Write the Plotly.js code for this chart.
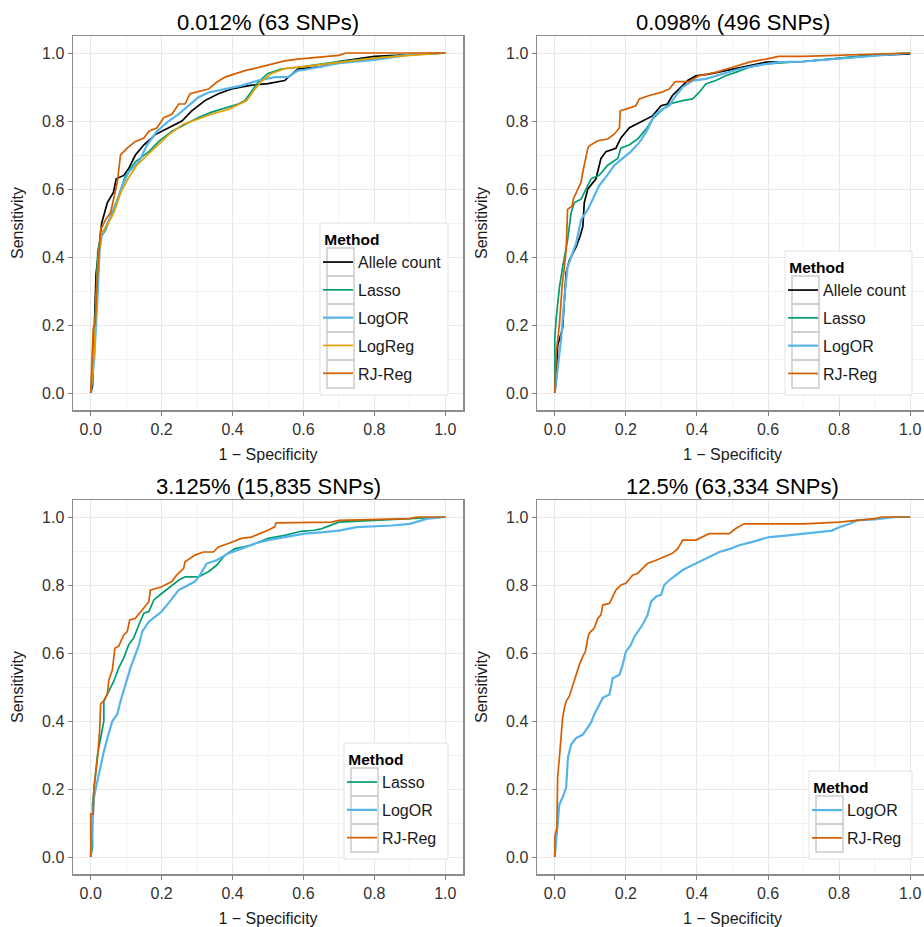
<!DOCTYPE html>
<html>
<head>
<meta charset="utf-8">
<script src="https://cdn.plot.ly/plotly-3.0.1.min.js"></script>
<style>
html,body{margin:0;padding:0;overflow:hidden;background:#fff;}
#chart{width:930px;height:927px;}
</style>
</head>
<body>
<div id="chart"></div>
<script>
// ---------- Data (1 - Specificity, Sensitivity) ----------
const panelTitles = ["0.012% (63 SNPs)", "0.098% (496 SNPs)", "3.125% (15,835 SNPs)", "12.5% (63,334 SNPs)"];
const methodNames = ["Allele count", "Lasso", "LogOR", "LogReg", "RJ-Reg"];
const methodColors = ["#000000", "#009E73", "#56B4E9", "#E69F00", "#D55E00"];
const tickVals = [0, 0.2, 0.4, 0.6, 0.8, 1.0];
const tickText = ["0.0", "0.2", "0.4", "0.6", "0.8", "1.0"];

// Panel 1: 0.012% (63 SNPs)
const p1_allele_x = [0,0.005,0.015,0.025,0.031,0.047,0.064,0.072,0.093,0.107,0.126,0.15,0.182,0.22,0.257,0.285,0.322,0.36,0.397,0.45,0.5,0.547,0.584,0.65,0.7,0.8,0.85,1.0];
const p1_allele_y = [0,0.02,0.35,0.45,0.50,0.56,0.59,0.63,0.64,0.66,0.70,0.73,0.76,0.78,0.80,0.83,0.86,0.88,0.894,0.905,0.91,0.919,0.953,0.96,0.975,0.99,0.993,1.0];
const p1_lasso_x = [0,0.01,0.02,0.03,0.042,0.061,0.079,0.098,0.126,0.164,0.192,0.229,0.266,0.304,0.341,0.388,0.416,0.435,0.453,0.472,0.50,0.537,0.584,0.7,0.8,0.9,1.0];
const p1_lasso_y = [0,0.15,0.42,0.46,0.48,0.53,0.58,0.64,0.68,0.71,0.74,0.77,0.79,0.81,0.826,0.84,0.85,0.86,0.885,0.914,0.94,0.953,0.958,0.975,0.985,0.995,1.0];
const p1_logor_x = [0,0.01,0.02,0.025,0.031,0.051,0.07,0.089,0.107,0.136,0.159,0.187,0.22,0.248,0.276,0.304,0.332,0.379,0.425,0.472,0.519,0.556,0.584,0.6,0.7,0.8,0.9,1.0];
const p1_logor_y = [0,0.1,0.3,0.42,0.463,0.51,0.55,0.61,0.65,0.68,0.73,0.77,0.80,0.82,0.845,0.87,0.884,0.894,0.904,0.919,0.929,0.929,0.948,0.95,0.97,0.98,0.995,1.0];
const p1_logreg_x = [0,0.01,0.02,0.03,0.045,0.065,0.085,0.105,0.13,0.16,0.19,0.22,0.26,0.30,0.34,0.39,0.42,0.44,0.46,0.48,0.51,0.55,0.6,0.7,0.8,0.9,1.0];
const p1_logreg_y = [0,0.12,0.38,0.47,0.49,0.53,0.59,0.63,0.67,0.70,0.73,0.76,0.79,0.805,0.82,0.835,0.85,0.86,0.89,0.915,0.94,0.955,0.96,0.972,0.985,0.993,1.0];
const p1_rjreg_x = [0,0.003,0.007,0.012,0.019,0.028,0.042,0.056,0.068,0.075,0.084,0.103,0.126,0.15,0.164,0.187,0.206,0.229,0.248,0.266,0.28,0.308,0.332,0.355,0.379,0.411,0.435,0.463,0.495,0.519,0.547,0.584,0.65,0.70,0.72,1.0];
const p1_rjreg_y = [0,0.07,0.19,0.20,0.35,0.48,0.51,0.53,0.59,0.62,0.70,0.72,0.74,0.75,0.77,0.78,0.81,0.82,0.85,0.85,0.88,0.887,0.894,0.914,0.929,0.94,0.948,0.955,0.963,0.968,0.977,0.982,0.987,0.993,1.0,1.0];

// Panel 2: 0.098% (496 SNPs)
const p2_allele_x = [0,0.005,0.008,0.022,0.032,0.041,0.06,0.071,0.079,0.083,0.093,0.116,0.13,0.144,0.172,0.186,0.21,0.247,0.275,0.299,0.317,0.331,0.35,0.374,0.397,0.434,0.481,0.528,0.594,0.7,0.8,0.9,1.0];
const p2_allele_y = [0,0.05,0.14,0.19,0.355,0.39,0.43,0.46,0.49,0.56,0.60,0.63,0.69,0.71,0.72,0.75,0.78,0.80,0.815,0.845,0.85,0.875,0.894,0.919,0.933,0.938,0.948,0.958,0.973,0.975,0.985,0.993,0.997];
const p2_lasso_x = [0,0,0.004,0.013,0.022,0.036,0.046,0.055,0.074,0.088,0.102,0.125,0.149,0.177,0.186,0.21,0.233,0.257,0.275,0.299,0.322,0.36,0.388,0.406,0.425,0.453,0.481,0.509,0.547,0.594,0.7,0.8,0.9,1.0];
const p2_lasso_y = [0,0.16,0.22,0.31,0.37,0.45,0.53,0.56,0.57,0.60,0.63,0.64,0.67,0.69,0.72,0.73,0.747,0.776,0.806,0.83,0.85,0.86,0.865,0.884,0.909,0.919,0.933,0.943,0.958,0.968,0.975,0.985,0.995,1.0];
const p2_logor_x = [0,0.005,0.018,0.027,0.036,0.046,0.06,0.074,0.093,0.107,0.125,0.14,0.168,0.191,0.214,0.238,0.257,0.28,0.303,0.322,0.341,0.36,0.388,0.425,0.472,0.519,0.566,0.631,0.7,0.8,0.9,1.0];
const p2_logor_y = [0,0.05,0.16,0.28,0.37,0.40,0.44,0.51,0.54,0.57,0.61,0.63,0.67,0.69,0.71,0.737,0.767,0.816,0.835,0.845,0.875,0.90,0.919,0.924,0.938,0.953,0.963,0.973,0.975,0.983,0.99,1.0];
const p2_rjreg_x = [0,0.004,0.013,0.021,0.027,0.032,0.036,0.049,0.052,0.065,0.074,0.079,0.093,0.097,0.121,0.149,0.168,0.182,0.184,0.20,0.228,0.238,0.266,0.299,0.322,0.339,0.378,0.406,0.453,0.50,0.547,0.594,0.63,0.7,0.8,0.9,1.0];
const p2_rjreg_y = [0,0.12,0.2,0.32,0.37,0.42,0.54,0.55,0.57,0.60,0.62,0.65,0.72,0.727,0.742,0.747,0.762,0.78,0.83,0.835,0.845,0.865,0.875,0.884,0.894,0.916,0.916,0.933,0.943,0.958,0.973,0.982,0.99,0.99,0.993,0.998,1.0];

// Panel 3: 3.125% (15,835 SNPs)
const p3_lasso_x = [0,0.005,0.005,0.014,0.019,0.028,0.037,0.037,0.051,0.065,0.079,0.093,0.107,0.121,0.136,0.15,0.164,0.178,0.2,0.224,0.248,0.266,0.304,0.332,0.355,0.379,0.407,0.453,0.50,0.547,0.593,0.63,0.65,0.7,0.8,0.9,1.0];
const p3_lasso_y = [0,0.03,0.155,0.253,0.30,0.35,0.40,0.458,0.487,0.517,0.556,0.585,0.624,0.644,0.683,0.717,0.722,0.756,0.775,0.795,0.814,0.824,0.824,0.839,0.858,0.888,0.907,0.917,0.937,0.946,0.958,0.961,0.965,0.985,0.99,0.995,1.0];
const p3_logor_x = [0,0.005,0.009,0.019,0.028,0.037,0.047,0.061,0.075,0.084,0.098,0.112,0.126,0.136,0.145,0.164,0.182,0.2,0.215,0.229,0.248,0.266,0.294,0.308,0.327,0.355,0.388,0.425,0.463,0.50,0.547,0.603,0.65,0.7,0.75,0.85,0.9,0.95,1.0];
const p3_logor_y = [0,0.08,0.175,0.224,0.272,0.31,0.35,0.40,0.42,0.458,0.507,0.556,0.595,0.624,0.663,0.692,0.707,0.722,0.741,0.761,0.785,0.795,0.81,0.829,0.863,0.873,0.893,0.907,0.922,0.932,0.941,0.951,0.955,0.96,0.97,0.975,0.98,0.995,1.0];
const p3_rjreg_x = [0,0,0.007,0.009,0.019,0.025,0.028,0.037,0.047,0.051,0.061,0.068,0.079,0.084,0.093,0.103,0.11,0.126,0.14,0.154,0.164,0.168,0.2,0.229,0.243,0.262,0.266,0.294,0.318,0.346,0.36,0.388,0.425,0.453,0.477,0.50,0.519,0.523,0.68,0.7,0.9,0.92,1.0];
const p3_rjreg_y = [0,0.126,0.126,0.204,0.29,0.37,0.45,0.46,0.48,0.52,0.55,0.614,0.62,0.634,0.653,0.663,0.697,0.702,0.72,0.741,0.751,0.785,0.795,0.81,0.83,0.849,0.868,0.888,0.897,0.897,0.912,0.922,0.937,0.941,0.951,0.961,0.971,0.983,0.985,0.99,0.995,1.0,1.0];

// Panel 4: 12.5% (63,334 SNPs)
const p4_logor_x = [0,0.004,0.008,0.013,0.022,0.032,0.037,0.046,0.06,0.079,0.093,0.102,0.111,0.121,0.135,0.154,0.163,0.182,0.191,0.2,0.214,0.224,0.233,0.247,0.261,0.271,0.285,0.299,0.308,0.322,0.341,0.36,0.378,0.406,0.434,0.463,0.495,0.519,0.556,0.603,0.65,0.7,0.75,0.78,0.8,0.83,0.85,0.9,0.96,1.0];
const p4_logor_y = [0,0.06,0.097,0.155,0.175,0.204,0.292,0.331,0.35,0.36,0.38,0.395,0.419,0.438,0.468,0.478,0.526,0.536,0.565,0.604,0.624,0.648,0.663,0.683,0.712,0.751,0.766,0.771,0.80,0.814,0.829,0.844,0.854,0.868,0.883,0.897,0.907,0.917,0.927,0.941,0.945,0.95,0.955,0.96,0.97,0.98,0.99,0.993,1.0,1.0];
const p4_rjreg_x = [0,0,0.006,0.008,0.013,0.018,0.022,0.027,0.032,0.041,0.051,0.06,0.069,0.079,0.086,0.093,0.097,0.111,0.121,0.13,0.135,0.154,0.163,0.172,0.186,0.2,0.219,0.233,0.247,0.261,0.285,0.308,0.331,0.346,0.36,0.397,0.416,0.434,0.491,0.509,0.533,0.7,0.8,0.85,0.9,0.92,1.0];
const p4_rjreg_y = [0,0.058,0.087,0.233,0.292,0.35,0.409,0.438,0.458,0.473,0.507,0.536,0.565,0.59,0.604,0.644,0.658,0.673,0.702,0.712,0.741,0.746,0.766,0.785,0.80,0.805,0.829,0.834,0.849,0.863,0.873,0.883,0.893,0.907,0.932,0.932,0.941,0.951,0.951,0.966,0.98,0.98,0.985,0.99,0.995,1.0,1.0];

// ---------- Build traces ----------
const panels = [
  [["Allele count", p1_allele_x, p1_allele_y], ["Lasso", p1_lasso_x, p1_lasso_y], ["LogOR", p1_logor_x, p1_logor_y], ["LogReg", p1_logreg_x, p1_logreg_y], ["RJ-Reg", p1_rjreg_x, p1_rjreg_y]],
  [["Allele count", p2_allele_x, p2_allele_y], ["Lasso", p2_lasso_x, p2_lasso_y], ["LogOR", p2_logor_x, p2_logor_y], ["RJ-Reg", p2_rjreg_x, p2_rjreg_y]],
  [["Lasso", p3_lasso_x, p3_lasso_y], ["LogOR", p3_logor_x, p3_logor_y], ["RJ-Reg", p3_rjreg_x, p3_rjreg_y]],
  [["LogOR", p4_logor_x, p4_logor_y], ["RJ-Reg", p4_rjreg_x, p4_rjreg_y]]
];

const traces = [];
panels.forEach((series, i) => {
  const sfx = i === 0 ? "" : String(i + 1);
  series.forEach(([name, xs, ys]) => {
    const c = methodColors[methodNames.indexOf(name)];
    traces.push({
      type: "scatter", mode: "lines", name: name,
      x: xs, y: ys,
      xaxis: "x" + sfx, yaxis: "y" + sfx,
      line: {color: c, width: name === "LogOR" ? 2.2 : 1.7},
      legend: "legend" + sfx,
      legendgroup: "g" + i + name,
      hoverinfo: "skip"
    });
  });
});

// ---------- Layout ----------
const W = 930, H = 927;
const px = v => v / W, py = v => 1 - v / H;
const boxes = [
  {x0: 73, x1: 463, y0: 36, y1: 410},
  {x0: 537, x1: 928, y0: 36, y1: 410},
  {x0: 73, x1: 463, y0: 500, y1: 874},
  {x0: 537, x1: 928, y0: 500, y1: 874}
];
// legend frames [left, top, right, bottom] in px
const legendFrames = [[320, 223, 448, 395], [785, 251, 912, 395], [344, 743, 448, 859], [809, 771, 912, 859]];
const FONT = "Liberation Sans, Arial, sans-serif";

const layout = {
  width: W, height: H,
  margin: {l: 0, r: 0, t: 0, b: 0},
  paper_bgcolor: "#ffffff", plot_bgcolor: "#ffffff",
  font: {family: FONT, color: "#1a1a1a", size: 16},
  showlegend: true,
  annotations: [], shapes: []
};

boxes.forEach((b, i) => {
  const sfx = i === 0 ? "" : String(i + 1);
  const common = {
    range: [-0.05, 1.05], autorange: false,
    tickvals: tickVals, ticktext: tickText,
    ticks: "outside", ticklen: 4, tickcolor: "#7f7f7f", tickwidth: 1,
    tickfont: {size: 16, color: "#333333", family: FONT},
    showgrid: true, gridcolor: "#e8e8e8", gridwidth: 1,
    minor: {tickvals: [0.1, 0.3, 0.5, 0.7, 0.9], showgrid: true, gridcolor: "#f3f3f3", gridwidth: 1, ticks: ""},
    zeroline: false,
    showline: true, mirror: true, linecolor: "#8c8c8c", linewidth: 1.5,
    fixedrange: true
  };
  layout["xaxis" + sfx] = Object.assign({}, common, {
    domain: [px(b.x0), px(b.x1)],
    anchor: "y" + sfx,
    title: {text: "1 \u2212 Specificity", font: {size: 16, color: "#1a1a1a", family: FONT}, standoff: 12}
  });
  layout["yaxis" + sfx] = Object.assign({}, common, {
    domain: [py(b.y1), py(b.y0)],
    anchor: "x" + sfx,
    title: {text: "Sensitivity", font: {size: 16, color: "#1a1a1a", family: FONT}, standoff: 14}
  });
  layout.annotations.push({
    text: panelTitles[i], xref: "paper", yref: "paper",
    x: px((b.x0 + b.x1) / 2), y: py(b.y0), xanchor: "center", yanchor: "bottom", yshift: -1,
    showarrow: false, font: {size: 22, color: "#000000", family: FONT}
  });
  const [l, t, r, bt] = legendFrames[i];
  // legend frame and key boxes (ggplot-style), drawn under the Plotly legend text
  layout.shapes.push({type: "rect", xref: "paper", yref: "paper", layer: "above",
    x0: px(l), x1: px(r), y0: py(bt), y1: py(t),
    fillcolor: "#ffffff", line: {color: "#e3e3e3", width: 1}});
  const nItems = panels[i].length;
  for (let k = 0; k < nItems; k++) {
    const top = bt - 7 - (nItems - k) * 28;
    layout.shapes.push({type: "rect", xref: "paper", yref: "paper", layer: "above",
      x0: px(l + 7), x1: px(l + 34), y0: py(top + 28), y1: py(top),
      fillcolor: "rgba(0,0,0,0)", line: {color: "#cccccc", width: 1.5}});
  }
  layout["legend" + sfx] = {
    x: px(l - 2), y: py(t + 2), xanchor: "left", yanchor: "top",
    xref: "paper", yref: "paper",
    bgcolor: "rgba(0,0,0,0)", borderwidth: 0,
    title: {text: "\u00a0<b>Method</b>", font: {size: 15.5, color: "#000000", family: FONT}},
    font: {size: 16, color: "#1a1a1a", family: FONT},
    tracegroupgap: 4, itemwidth: 30
  };
});

Plotly.newPlot("chart", traces, layout, {displayModeBar: false, staticPlot: true});
</script>
</body>
</html>
